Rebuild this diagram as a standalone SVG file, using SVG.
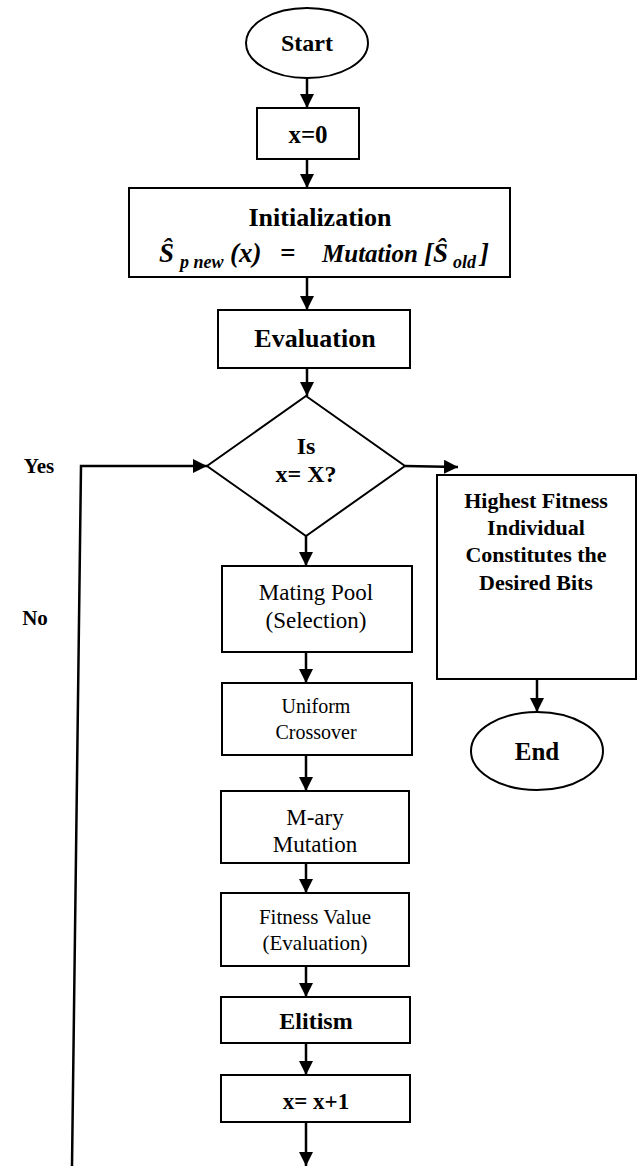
<svg xmlns="http://www.w3.org/2000/svg" width="643" height="1167" viewBox="0 0 643 1167">
<style>
.shape{fill:#fff;stroke:#000;stroke-width:2}
.con{fill:none;stroke:#000;stroke-width:2.5}
.t{font-family:"Liberation Serif","Times New Roman",serif;fill:#000;text-anchor:middle}
.b{font-weight:bold}
.m{font-family:"Liberation Serif","Times New Roman",serif;font-weight:bold;font-style:italic;fill:#000}
</style>
<defs>
<marker id="ah" viewBox="0 0 14 14" refX="14" refY="7" markerWidth="14" markerHeight="14" markerUnits="userSpaceOnUse" orient="auto">
<path d="M0,0 L14,7 L0,14 z" fill="#000"/>
</marker>
</defs>
<rect width="643" height="1167" fill="#fff"/>
<g id="connectors">
<line class="con" x1="307" y1="78" x2="307" y2="108" marker-end="url(#ah)"/>
<line class="con" x1="307" y1="159" x2="307" y2="188" marker-end="url(#ah)"/>
<line class="con" x1="307" y1="277" x2="307" y2="310" marker-end="url(#ah)"/>
<line class="con" x1="307" y1="368" x2="307" y2="396" marker-end="url(#ah)"/>
<line class="con" x1="306" y1="536" x2="306" y2="566" marker-end="url(#ah)"/>
<line class="con" x1="306" y1="652" x2="306" y2="683" marker-end="url(#ah)"/>
<line class="con" x1="306" y1="755" x2="306" y2="791" marker-end="url(#ah)"/>
<line class="con" x1="306" y1="863" x2="306" y2="893" marker-end="url(#ah)"/>
<line class="con" x1="306" y1="966" x2="306" y2="997" marker-end="url(#ah)"/>
<line class="con" x1="306" y1="1043" x2="306" y2="1075" marker-end="url(#ah)"/>
<line class="con" x1="306" y1="1122" x2="306" y2="1166" marker-end="url(#ah)"/>
<polyline class="con" points="72,1166 81,466 207,466" marker-end="url(#ah)"/>
<line class="con" x1="405" y1="466" x2="458" y2="467" marker-end="url(#ah)"/>
<line class="con" x1="537" y1="679" x2="537" y2="712" marker-end="url(#ah)"/>
</g>
<g id="start">
<ellipse class="shape" cx="307" cy="43" rx="61" ry="35"/>
<text class="t b" x="307" y="51" font-size="24">Start</text>
</g>
<g id="x0">
<rect class="shape" x="257" y="108" width="102" height="51"/>
<text class="t b" x="308" y="143" font-size="25">x=0</text>
</g>
<g id="init">
<rect class="shape" x="129" y="188" width="381" height="89"/>
<text class="t b" x="320" y="226" font-size="26">Initialization</text>
<text class="m" x="159" y="262" font-size="27">Ŝ</text>
<text class="m" x="180" y="268" font-size="18">p new</text>
<text class="m" x="230" y="262" font-size="27">(x)</text>
<text class="m" x="280" y="262" font-size="27">=</text>
<text class="m" x="322" y="262" font-size="25">Mutation</text>
<text class="m" x="424" y="262" font-size="27">[Ŝ</text>
<text class="m" x="453" y="268" font-size="18">old</text>
<text class="m" x="480" y="262" font-size="27">]</text>
</g>
<g id="evaluation">
<rect class="shape" x="218" y="310" width="192" height="58"/>
<text class="t b" x="315" y="347" font-size="26">Evaluation</text>
</g>
<g id="decision">
<polygon class="shape" points="306,396 405,466 306,536 207,466"/>
<text class="t b" x="306" y="454" font-size="24">Is</text>
<text class="t b" x="306" y="482" font-size="24">x= X?</text>
</g>
<g id="labels">
<text class="t b" x="39" y="473" font-size="21">Yes</text>
<text class="t b" x="35" y="625" font-size="21">No</text>
</g>
<g id="mating">
<rect class="shape" x="222" y="566" width="190" height="86"/>
<text class="t" x="316" y="600" font-size="23">Mating Pool</text>
<text class="t" x="316" y="628" font-size="23">(Selection)</text>
</g>
<g id="crossover">
<rect class="shape" x="222" y="683" width="190" height="72"/>
<text class="t" x="316" y="713" font-size="20">Uniform</text>
<text class="t" x="316" y="739" font-size="20">Crossover</text>
</g>
<g id="mutation">
<rect class="shape" x="221" y="791" width="188" height="72"/>
<text class="t" x="315" y="825" font-size="23">M-ary</text>
<text class="t" x="315" y="852" font-size="23">Mutation</text>
</g>
<g id="fitness">
<rect class="shape" x="221" y="893" width="188" height="73"/>
<text class="t" x="315" y="924" font-size="21">Fitness Value</text>
<text class="t" x="315" y="950" font-size="21">(Evaluation)</text>
</g>
<g id="elitism">
<rect class="shape" x="221" y="997" width="189" height="46"/>
<text class="t b" x="316" y="1029" font-size="24">Elitism</text>
</g>
<g id="increment">
<rect class="shape" x="221" y="1075" width="189" height="47"/>
<text class="t b" x="316" y="1109" font-size="23">x= x+1</text>
</g>
<g id="result">
<rect class="shape" x="437" y="475" width="199" height="204"/>
<text class="t b" x="536" y="508" font-size="22">Highest Fitness</text>
<text class="t b" x="536" y="535" font-size="22">Individual</text>
<text class="t b" x="536" y="562" font-size="22">Constitutes the</text>
<text class="t b" x="536" y="590" font-size="22">Desired Bits</text>
</g>
<g id="end">
<ellipse class="shape" cx="537" cy="751" rx="66" ry="39"/>
<text class="t b" x="537" y="760" font-size="25">End</text>
</g>
</svg>
